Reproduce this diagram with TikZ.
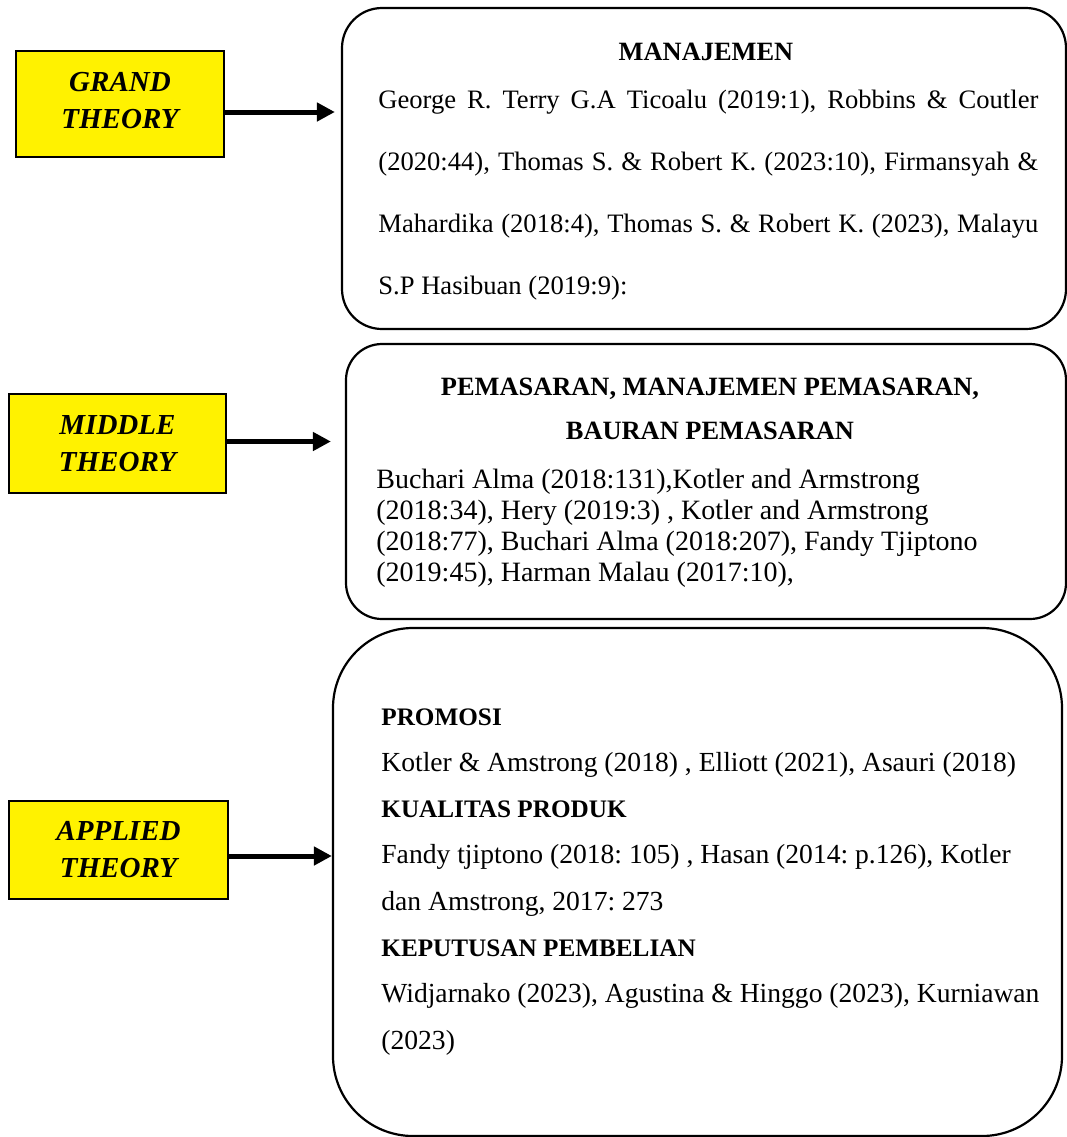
\documentclass[tikz,border=0pt]{standalone}
\usepackage{fontspec}
\setmainfont{Liberation Serif}
\usepackage{xcolor}
\usepackage{tikz}
\usetikzlibrary{positioning,arrows.meta}
\newcommand{\headfont}{\fontsize{12.6}{23.15}\selectfont\bfseries}

\begin{document}
\frenchspacing
\begin{tikzpicture}[x=0.5pt, y=-0.5pt, >={Triangle[length=9pt,width=9pt]},
    theory/.style={draw=black, line width=1pt, fill=yellow, align=center,
        font=\fontsize{14.5}{18.5}\selectfont\bfseries\itshape, inner sep=0pt},
    refbox/.style={draw=black, line width=1.1pt, inner sep=0pt},
    title/.style={anchor=base, align=center, inner sep=0pt,
        font=\fontsize{13.2}{22}\selectfont\bfseries},
    body/.style={anchor=north west, inner sep=0pt},
    arrowline/.style={->, line width=2.5pt}]

    % page frame
    \useasboundingbox (0,0) rectangle (1067,1137);

    % Theory levels (yellow boxes on the left)
    \node[theory, minimum width=104pt, minimum height=53pt, text depth=4pt] (grand) at (120,104) {GRAND\\THEORY};
    \node[theory, minimum width=108.5pt, minimum height=49.5pt] (middle) at (117.5,443.5) {MIDDLE\\THEORY};
    \node[theory, minimum width=109.5pt, minimum height=49pt] (applied) at (118.5,850) {APPLIED\\THEORY};

    % Rounded boxes with the references
    \node[refbox, rounded corners=20pt, minimum width=362pt, minimum height=160.5pt] (manajemen) at (704,168.5) {};
    \node[refbox, rounded corners=18pt, minimum width=360pt, minimum height=137.5pt] (pemasaran) at (706,481.5) {};
    \node[refbox, rounded corners=40pt, minimum width=364.5pt, minimum height=254pt] (terapan) at (697.5,882) {};

    % Grand theory text
    \node[title] (manajTitle) at (706,60) {MANAJEMEN};
    \node[body, text width=330pt, align=justify,
        font=\fontsize{13.3}{31}\selectfont] (manajText) at (378,90)
        {George R. Terry G.A Ticoalu (2019:1), Robbins \& Coutler\linebreak
         (2020:44), Thomas S. \& Robert K. (2023:10), Firmansyah \&\linebreak
         Mahardika (2018:4), Thomas S. \& Robert K. (2023), Malayu\linebreak
         S.P Hasibuan (2019:9):};

    % Middle theory text
    \node[title] (pemasTitle) at (710,439) {PEMASARAN, MANAJEMEN PEMASARAN,\\BAURAN PEMASARAN};
    \node[body, align=left, font=\fontsize{14}{15.5}\selectfont] (pemasText) at (376,469)
        {Buchari Alma (2018:131),Kotler and Armstrong\\
         (2018:34), Hery (2019:3) , Kotler and Armstrong\\
         (2018:77), Buchari Alma (2018:207), Fandy Tjiptono\\
         (2019:45), Harman Malau (2017:10),};

    % Applied theory text
    \node[body, align=left, font=\fontsize{13.8}{23.15}\selectfont] (terapText) at (381,708)
        {{\headfont PROMOSI}\\
         Kotler \& Amstrong (2018) , Elliott (2021), Asauri (2018)\\
         {\headfont KUALITAS PRODUK}\\
         Fandy tjiptono (2018: 105) , Hasan (2014: p.126), Kotler\\
         dan Amstrong, 2017: 273\\
         {\headfont KEPUTUSAN PEMBELIAN}\\
         Widjarnako (2023), Agustina \& Hinggo (2023), Kurniawan\\
         (2023)};

    % Arrows from theory level to its box
    \draw[arrowline] ([yshift=-4pt]grand.east) -- ([yshift=-4pt,xshift=-3pt]grand.east -| manajemen.west);
    \draw[arrowline] ([yshift=1pt]middle.east) -- ([yshift=1pt,xshift=-7pt]middle.east -| pemasaran.west);
    \draw[arrowline] ([yshift=-3pt]applied.east) -- ([yshift=-3pt]applied.east -| terapan.west);

\end{tikzpicture}
\end{document}
